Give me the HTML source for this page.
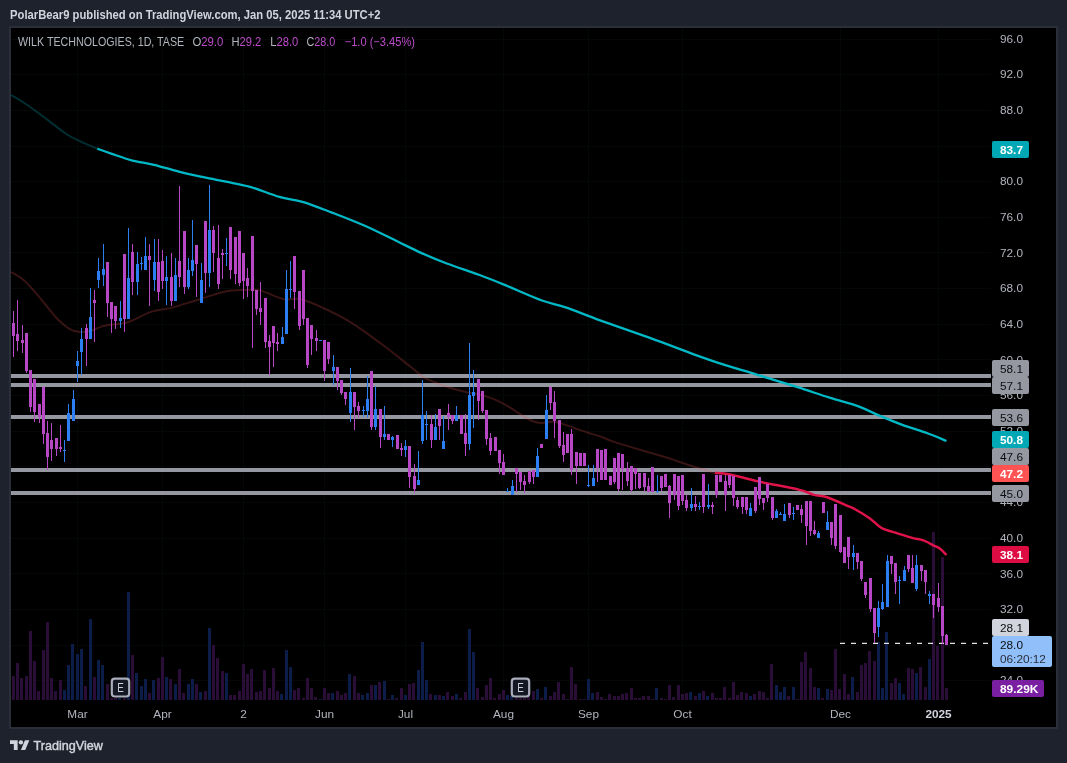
<!DOCTYPE html><html><head><meta charset="utf-8"><title>WILK TECHNOLOGIES chart</title><style>html,body{margin:0;padding:0;background:#1e222d;}body{width:1067px;height:763px;position:relative;overflow:hidden}</style></head><body>
<svg width="1067" height="763" viewBox="0 0 1067 763" style="position:absolute;left:0;top:0">
<rect x="9" y="26" width="1049" height="703" fill="#2a2e39"/>
<rect x="11" y="28" width="1045" height="699" fill="#000"/>
<g fill="#040807" shape-rendering="crispEdges">
<rect x="11" y="680" width="980" height="1"/>
<rect x="11" y="645" width="980" height="1"/>
<rect x="11" y="609" width="980" height="1"/>
<rect x="11" y="573" width="980" height="1"/>
<rect x="11" y="538" width="980" height="1"/>
<rect x="11" y="502" width="980" height="1"/>
<rect x="11" y="466" width="980" height="1"/>
<rect x="11" y="431" width="980" height="1"/>
<rect x="11" y="395" width="980" height="1"/>
<rect x="11" y="359" width="980" height="1"/>
<rect x="11" y="324" width="980" height="1"/>
<rect x="11" y="288" width="980" height="1"/>
<rect x="11" y="252" width="980" height="1"/>
<rect x="11" y="217" width="980" height="1"/>
<rect x="11" y="181" width="980" height="1"/>
<rect x="11" y="146" width="980" height="1"/>
<rect x="11" y="110" width="980" height="1"/>
<rect x="11" y="74" width="980" height="1"/>
<rect x="11" y="39" width="980" height="1"/>
<rect x="77" y="28" width="1" height="672"/>
<rect x="162" y="28" width="1" height="672"/>
<rect x="243" y="28" width="1" height="672"/>
<rect x="324" y="28" width="1" height="672"/>
<rect x="405" y="28" width="1" height="672"/>
<rect x="503" y="28" width="1" height="672"/>
<rect x="588" y="28" width="1" height="672"/>
<rect x="682" y="28" width="1" height="672"/>
<rect x="840" y="28" width="1" height="672"/>
<rect x="938" y="28" width="1" height="672"/>
</g>
<g fill="#9598a1" shape-rendering="crispEdges">
<rect x="11" y="374" width="980" height="4"/>
<rect x="11" y="383" width="980" height="4"/>
<rect x="11" y="415" width="980" height="4"/>
<rect x="11" y="468" width="980" height="4"/>
<rect x="11" y="491" width="980" height="4"/>
</g>
<g shape-rendering="crispEdges">
<rect x="12" y="676" width="3" height="24" fill="#2a0e37"/>
<rect x="16" y="663" width="3" height="37" fill="#2a0e37"/>
<rect x="20" y="678" width="3" height="22" fill="#2a0e37"/>
<rect x="25" y="676" width="3" height="24" fill="#2a0e37"/>
<rect x="29" y="631" width="3" height="69" fill="#2a0e37"/>
<rect x="33" y="661" width="3" height="39" fill="#2a0e37"/>
<rect x="37" y="691" width="3" height="9" fill="#2a0e37"/>
<rect x="42" y="650" width="3" height="50" fill="#2a0e37"/>
<rect x="46" y="622" width="3" height="78" fill="#2a0e37"/>
<rect x="50" y="678" width="3" height="22" fill="#2a0e37"/>
<rect x="54" y="691" width="3" height="9" fill="#2a0e37"/>
<rect x="59" y="680" width="3" height="20" fill="#2a0e37"/>
<rect x="63" y="690" width="3" height="10" fill="#0d1d49"/>
<rect x="67" y="665" width="3" height="35" fill="#0d1d49"/>
<rect x="71" y="644" width="3" height="56" fill="#0d1d49"/>
<rect x="76" y="654" width="3" height="46" fill="#0d1d49"/>
<rect x="80" y="649" width="3" height="51" fill="#0d1d49"/>
<rect x="84" y="686" width="3" height="14" fill="#2a0e37"/>
<rect x="89" y="619" width="3" height="81" fill="#0d1d49"/>
<rect x="93" y="677" width="3" height="23" fill="#2a0e37"/>
<rect x="97" y="660" width="3" height="40" fill="#0d1d49"/>
<rect x="101" y="665" width="3" height="35" fill="#0d1d49"/>
<rect x="106" y="684" width="3" height="16" fill="#2a0e37"/>
<rect x="110" y="698" width="3" height="2" fill="#2a0e37"/>
<rect x="114" y="698" width="3" height="2" fill="#2a0e37"/>
<rect x="118" y="698" width="3" height="2" fill="#0d1d49"/>
<rect x="123" y="698" width="3" height="2" fill="#2a0e37"/>
<rect x="127" y="592" width="3" height="108" fill="#0d1d49"/>
<rect x="131" y="655" width="3" height="45" fill="#2a0e37"/>
<rect x="135" y="673" width="3" height="27" fill="#0d1d49"/>
<rect x="140" y="686" width="3" height="14" fill="#0d1d49"/>
<rect x="144" y="679" width="3" height="21" fill="#0d1d49"/>
<rect x="148" y="693" width="3" height="7" fill="#2a0e37"/>
<rect x="152" y="680" width="3" height="20" fill="#0d1d49"/>
<rect x="157" y="678" width="3" height="22" fill="#2a0e37"/>
<rect x="161" y="657" width="3" height="43" fill="#2a0e37"/>
<rect x="165" y="677" width="3" height="23" fill="#0d1d49"/>
<rect x="169" y="679" width="3" height="21" fill="#2a0e37"/>
<rect x="174" y="684" width="3" height="16" fill="#0d1d49"/>
<rect x="178" y="669" width="3" height="31" fill="#2a0e37"/>
<rect x="182" y="693" width="3" height="7" fill="#2a0e37"/>
<rect x="187" y="684" width="3" height="16" fill="#0d1d49"/>
<rect x="191" y="679" width="3" height="21" fill="#0d1d49"/>
<rect x="195" y="684" width="3" height="16" fill="#2a0e37"/>
<rect x="199" y="692" width="3" height="8" fill="#0d1d49"/>
<rect x="204" y="691" width="3" height="9" fill="#2a0e37"/>
<rect x="208" y="628" width="3" height="72" fill="#0d1d49"/>
<rect x="212" y="645" width="3" height="55" fill="#2a0e37"/>
<rect x="216" y="658" width="3" height="42" fill="#2a0e37"/>
<rect x="221" y="671" width="3" height="29" fill="#2a0e37"/>
<rect x="225" y="673" width="3" height="27" fill="#0d1d49"/>
<rect x="229" y="695" width="3" height="5" fill="#2a0e37"/>
<rect x="233" y="695" width="3" height="5" fill="#2a0e37"/>
<rect x="238" y="691" width="3" height="9" fill="#2a0e37"/>
<rect x="242" y="664" width="3" height="36" fill="#2a0e37"/>
<rect x="246" y="674" width="3" height="26" fill="#2a0e37"/>
<rect x="250" y="669" width="3" height="31" fill="#2a0e37"/>
<rect x="255" y="692" width="3" height="8" fill="#2a0e37"/>
<rect x="259" y="691" width="3" height="9" fill="#2a0e37"/>
<rect x="263" y="670" width="3" height="30" fill="#2a0e37"/>
<rect x="268" y="688" width="3" height="12" fill="#2a0e37"/>
<rect x="272" y="668" width="3" height="32" fill="#2a0e37"/>
<rect x="276" y="691" width="3" height="9" fill="#2a0e37"/>
<rect x="280" y="694" width="3" height="6" fill="#0d1d49"/>
<rect x="285" y="650" width="3" height="50" fill="#0d1d49"/>
<rect x="289" y="667" width="3" height="33" fill="#0d1d49"/>
<rect x="293" y="690" width="3" height="10" fill="#2a0e37"/>
<rect x="297" y="688" width="3" height="12" fill="#2a0e37"/>
<rect x="302" y="698" width="3" height="2" fill="#2a0e37"/>
<rect x="306" y="678" width="3" height="22" fill="#2a0e37"/>
<rect x="310" y="688" width="3" height="12" fill="#2a0e37"/>
<rect x="314" y="697" width="3" height="3" fill="#2a0e37"/>
<rect x="319" y="699" width="3" height="1" fill="#0d1d49"/>
<rect x="323" y="688" width="3" height="12" fill="#2a0e37"/>
<rect x="327" y="693" width="3" height="7" fill="#2a0e37"/>
<rect x="331" y="693" width="3" height="7" fill="#0d1d49"/>
<rect x="336" y="691" width="3" height="9" fill="#2a0e37"/>
<rect x="340" y="695" width="3" height="5" fill="#2a0e37"/>
<rect x="344" y="693" width="3" height="7" fill="#2a0e37"/>
<rect x="348" y="674" width="3" height="26" fill="#0d1d49"/>
<rect x="353" y="676" width="3" height="24" fill="#2a0e37"/>
<rect x="357" y="693" width="3" height="7" fill="#2a0e37"/>
<rect x="361" y="695" width="3" height="5" fill="#0d1d49"/>
<rect x="366" y="693" width="3" height="7" fill="#0d1d49"/>
<rect x="370" y="685" width="3" height="15" fill="#2a0e37"/>
<rect x="374" y="685" width="3" height="15" fill="#0d1d49"/>
<rect x="378" y="682" width="3" height="18" fill="#2a0e37"/>
<rect x="383" y="681" width="3" height="19" fill="#0d1d49"/>
<rect x="387" y="699" width="3" height="1" fill="#2a0e37"/>
<rect x="391" y="695" width="3" height="5" fill="#0d1d49"/>
<rect x="395" y="698" width="3" height="2" fill="#2a0e37"/>
<rect x="400" y="688" width="3" height="12" fill="#2a0e37"/>
<rect x="404" y="695" width="3" height="5" fill="#0d1d49"/>
<rect x="408" y="684" width="3" height="16" fill="#2a0e37"/>
<rect x="412" y="683" width="3" height="17" fill="#2a0e37"/>
<rect x="417" y="670" width="3" height="30" fill="#0d1d49"/>
<rect x="421" y="642" width="3" height="58" fill="#0d1d49"/>
<rect x="425" y="680" width="3" height="20" fill="#0d1d49"/>
<rect x="429" y="694" width="3" height="6" fill="#2a0e37"/>
<rect x="434" y="695" width="3" height="5" fill="#0d1d49"/>
<rect x="438" y="695" width="3" height="5" fill="#2a0e37"/>
<rect x="442" y="696" width="3" height="4" fill="#0d1d49"/>
<rect x="446" y="692" width="3" height="8" fill="#2a0e37"/>
<rect x="451" y="696" width="3" height="4" fill="#2a0e37"/>
<rect x="455" y="694" width="3" height="6" fill="#0d1d49"/>
<rect x="459" y="698" width="3" height="2" fill="#2a0e37"/>
<rect x="464" y="692" width="3" height="8" fill="#2a0e37"/>
<rect x="468" y="629" width="3" height="71" fill="#0d1d49"/>
<rect x="472" y="652" width="3" height="48" fill="#0d1d49"/>
<rect x="476" y="688" width="3" height="12" fill="#2a0e37"/>
<rect x="481" y="697" width="3" height="3" fill="#2a0e37"/>
<rect x="485" y="685" width="3" height="15" fill="#2a0e37"/>
<rect x="489" y="678" width="3" height="22" fill="#2a0e37"/>
<rect x="493" y="698" width="3" height="2" fill="#2a0e37"/>
<rect x="498" y="694" width="3" height="6" fill="#2a0e37"/>
<rect x="502" y="690" width="3" height="10" fill="#2a0e37"/>
<rect x="506" y="695" width="3" height="5" fill="#0d1d49"/>
<rect x="510" y="696" width="3" height="4" fill="#0d1d49"/>
<rect x="515" y="698" width="3" height="2" fill="#2a0e37"/>
<rect x="519" y="698" width="3" height="2" fill="#2a0e37"/>
<rect x="523" y="698" width="3" height="2" fill="#2a0e37"/>
<rect x="527" y="697" width="3" height="3" fill="#2a0e37"/>
<rect x="532" y="691" width="3" height="9" fill="#2a0e37"/>
<rect x="536" y="689" width="3" height="11" fill="#0d1d49"/>
<rect x="540" y="698" width="3" height="2" fill="#2a0e37"/>
<rect x="544" y="687" width="3" height="13" fill="#0d1d49"/>
<rect x="549" y="696" width="3" height="4" fill="#2a0e37"/>
<rect x="553" y="692" width="3" height="8" fill="#2a0e37"/>
<rect x="557" y="682" width="3" height="18" fill="#2a0e37"/>
<rect x="562" y="694" width="3" height="6" fill="#2a0e37"/>
<rect x="566" y="699" width="3" height="1" fill="#2a0e37"/>
<rect x="570" y="667" width="3" height="33" fill="#2a0e37"/>
<rect x="574" y="684" width="3" height="16" fill="#2a0e37"/>
<rect x="579" y="699" width="3" height="1" fill="#2a0e37"/>
<rect x="583" y="699" width="3" height="1" fill="#2a0e37"/>
<rect x="587" y="679" width="3" height="21" fill="#0d1d49"/>
<rect x="591" y="693" width="3" height="7" fill="#0d1d49"/>
<rect x="596" y="692" width="3" height="8" fill="#2a0e37"/>
<rect x="600" y="697" width="3" height="3" fill="#2a0e37"/>
<rect x="604" y="699" width="3" height="1" fill="#2a0e37"/>
<rect x="608" y="694" width="3" height="6" fill="#2a0e37"/>
<rect x="613" y="696" width="3" height="4" fill="#2a0e37"/>
<rect x="617" y="696" width="3" height="4" fill="#2a0e37"/>
<rect x="621" y="694" width="3" height="6" fill="#2a0e37"/>
<rect x="625" y="693" width="3" height="7" fill="#2a0e37"/>
<rect x="630" y="688" width="3" height="12" fill="#2a0e37"/>
<rect x="634" y="698" width="3" height="2" fill="#2a0e37"/>
<rect x="638" y="698" width="3" height="2" fill="#2a0e37"/>
<rect x="642" y="696" width="3" height="4" fill="#2a0e37"/>
<rect x="647" y="696" width="3" height="4" fill="#2a0e37"/>
<rect x="651" y="699" width="3" height="1" fill="#2a0e37"/>
<rect x="655" y="688" width="3" height="12" fill="#0d1d49"/>
<rect x="660" y="698" width="3" height="2" fill="#2a0e37"/>
<rect x="664" y="699" width="3" height="1" fill="#2a0e37"/>
<rect x="668" y="685" width="3" height="15" fill="#2a0e37"/>
<rect x="672" y="697" width="3" height="3" fill="#2a0e37"/>
<rect x="677" y="685" width="3" height="15" fill="#2a0e37"/>
<rect x="681" y="694" width="3" height="6" fill="#2a0e37"/>
<rect x="685" y="693" width="3" height="7" fill="#2a0e37"/>
<rect x="689" y="692" width="3" height="8" fill="#0d1d49"/>
<rect x="694" y="696" width="3" height="4" fill="#2a0e37"/>
<rect x="698" y="693" width="3" height="7" fill="#0d1d49"/>
<rect x="702" y="691" width="3" height="9" fill="#2a0e37"/>
<rect x="706" y="696" width="3" height="4" fill="#0d1d49"/>
<rect x="711" y="693" width="3" height="7" fill="#2a0e37"/>
<rect x="715" y="698" width="3" height="2" fill="#2a0e37"/>
<rect x="719" y="698" width="3" height="2" fill="#2a0e37"/>
<rect x="723" y="687" width="3" height="13" fill="#2a0e37"/>
<rect x="728" y="698" width="3" height="2" fill="#2a0e37"/>
<rect x="732" y="682" width="3" height="18" fill="#2a0e37"/>
<rect x="736" y="695" width="3" height="5" fill="#2a0e37"/>
<rect x="740" y="692" width="3" height="8" fill="#2a0e37"/>
<rect x="745" y="693" width="3" height="7" fill="#2a0e37"/>
<rect x="749" y="696" width="3" height="4" fill="#0d1d49"/>
<rect x="753" y="694" width="3" height="6" fill="#2a0e37"/>
<rect x="758" y="691" width="3" height="9" fill="#2a0e37"/>
<rect x="762" y="692" width="3" height="8" fill="#2a0e37"/>
<rect x="766" y="698" width="3" height="2" fill="#2a0e37"/>
<rect x="770" y="664" width="3" height="36" fill="#2a0e37"/>
<rect x="775" y="685" width="3" height="15" fill="#0d1d49"/>
<rect x="779" y="692" width="3" height="8" fill="#0d1d49"/>
<rect x="783" y="687" width="3" height="13" fill="#0d1d49"/>
<rect x="787" y="696" width="3" height="4" fill="#2a0e37"/>
<rect x="792" y="687" width="3" height="13" fill="#0d1d49"/>
<rect x="796" y="699" width="3" height="1" fill="#2a0e37"/>
<rect x="800" y="662" width="3" height="38" fill="#2a0e37"/>
<rect x="804" y="652" width="3" height="48" fill="#2a0e37"/>
<rect x="809" y="668" width="3" height="32" fill="#2a0e37"/>
<rect x="813" y="687" width="3" height="13" fill="#2a0e37"/>
<rect x="817" y="688" width="3" height="12" fill="#0d1d49"/>
<rect x="821" y="698" width="3" height="2" fill="#2a0e37"/>
<rect x="826" y="689" width="3" height="11" fill="#0d1d49"/>
<rect x="830" y="690" width="3" height="10" fill="#2a0e37"/>
<rect x="834" y="649" width="3" height="51" fill="#2a0e37"/>
<rect x="838" y="689" width="3" height="11" fill="#2a0e37"/>
<rect x="843" y="674" width="3" height="26" fill="#2a0e37"/>
<rect x="847" y="694" width="3" height="6" fill="#2a0e37"/>
<rect x="851" y="677" width="3" height="23" fill="#0d1d49"/>
<rect x="856" y="692" width="3" height="8" fill="#2a0e37"/>
<rect x="860" y="665" width="3" height="35" fill="#2a0e37"/>
<rect x="864" y="663" width="3" height="37" fill="#2a0e37"/>
<rect x="868" y="651" width="3" height="49" fill="#2a0e37"/>
<rect x="873" y="661" width="3" height="39" fill="#2a0e37"/>
<rect x="877" y="642" width="3" height="58" fill="#0d1d49"/>
<rect x="881" y="688" width="3" height="12" fill="#0d1d49"/>
<rect x="885" y="632" width="3" height="68" fill="#0d1d49"/>
<rect x="890" y="683" width="3" height="17" fill="#2a0e37"/>
<rect x="894" y="678" width="3" height="22" fill="#2a0e37"/>
<rect x="898" y="683" width="3" height="17" fill="#0d1d49"/>
<rect x="902" y="694" width="3" height="6" fill="#0d1d49"/>
<rect x="907" y="668" width="3" height="32" fill="#2a0e37"/>
<rect x="911" y="669" width="3" height="31" fill="#2a0e37"/>
<rect x="915" y="673" width="3" height="27" fill="#0d1d49"/>
<rect x="919" y="667" width="3" height="33" fill="#2a0e37"/>
<rect x="924" y="687" width="3" height="13" fill="#2a0e37"/>
<rect x="928" y="659" width="3" height="41" fill="#0d1d49"/>
<rect x="932" y="532" width="3" height="168" fill="#2a0e37"/>
<rect x="936" y="646" width="3" height="54" fill="#2a0e37"/>
<rect x="941" y="557" width="3" height="143" fill="#2a0e37"/>
<rect x="945" y="688" width="3" height="12" fill="#2a0e37"/>
</g>
<path d="M11.0 95.1 C13.1 96.3 19.2 99.7 23.5 102.5 C27.8 105.3 32.5 108.7 37.0 112.0 C41.5 115.3 45.6 118.4 50.5 122.1 C55.4 125.8 61.3 130.8 66.2 134.0 C71.1 137.2 74.5 138.8 79.7 141.2 C84.9 143.6 94.4 147.4 97.3 148.7" fill="none" stroke="#00b9c6" stroke-opacity="0.25" stroke-width="2" stroke-linejoin="round"/>
<path d="M97.3 148.7 C99.6 149.5 105.5 151.7 111.2 153.6 C116.9 155.5 124.4 158.4 131.5 160.3 C138.6 162.2 146.1 162.9 154.0 164.8 C161.9 166.7 170.5 169.5 178.7 171.6 C186.9 173.7 195.5 175.5 203.4 177.2 C211.3 178.9 218.1 180.1 225.9 181.7 C233.7 183.3 241.1 184.3 250.0 186.8 C258.9 189.3 270.8 194.4 279.5 196.9 C288.2 199.4 293.8 199.2 302.5 201.8 C311.2 204.4 321.6 208.6 332.0 212.6 C342.4 216.6 353.9 221.0 364.8 225.8 C375.7 230.6 388.3 237.0 397.6 241.5 C406.9 246.0 412.3 248.9 420.5 252.6 C428.7 256.3 436.9 259.8 446.8 263.5 C456.7 267.2 469.8 271.4 479.6 275.0 C489.4 278.6 495.4 281.1 505.8 285.4 C516.2 289.6 532.0 296.9 541.9 300.5 C551.8 304.1 555.2 303.8 564.9 307.1 C574.6 310.4 586.0 315.2 600.0 320.3 C614.0 325.4 630.6 331.0 649.2 337.7 C667.8 344.4 693.5 354.5 711.5 360.7 C729.5 366.9 743.2 370.4 757.4 374.8 C771.6 379.2 784.8 383.1 796.8 386.9 C808.8 390.7 819.2 394.4 829.6 397.7 C840.0 401.0 850.9 403.7 859.1 406.6 C867.3 409.6 871.7 412.4 878.8 415.4 C885.9 418.4 893.5 421.6 901.7 424.6 C909.9 427.6 920.5 430.8 928.0 433.5 C935.5 436.2 943.4 439.8 946.5 441.0" fill="none" stroke="#00b9c6" stroke-width="2.3" stroke-linejoin="round"/>
<path d="M11.0 272.0 C12.8 273.1 18.0 275.5 21.8 278.6 C25.6 281.7 29.7 286.1 33.6 290.4 C37.5 294.7 41.5 299.8 45.4 304.5 C49.3 309.2 53.3 314.7 57.2 318.7 C61.1 322.7 65.5 326.4 69.0 328.6 C72.5 330.8 74.9 331.3 78.4 331.7 C81.9 332.1 85.9 331.9 90.2 330.9 C94.5 329.9 98.0 327.2 104.3 325.8 C110.6 324.4 120.0 324.6 127.9 322.2 C135.8 319.8 144.4 314.0 151.5 311.6 C158.6 309.2 163.3 309.9 170.4 308.1 C177.5 306.3 186.9 303.2 194.0 301.0 C201.1 298.8 206.9 296.8 212.8 295.1 C218.7 293.4 223.8 291.7 229.3 290.8 C234.8 289.9 240.7 290.0 245.8 289.9 C250.9 289.8 253.8 288.9 260.0 290.4 C266.2 291.9 276.3 297.5 282.8 298.9 C289.3 300.3 293.7 298.0 299.2 298.9 C304.7 299.8 307.4 300.8 315.6 304.5 C323.8 308.2 337.5 314.3 348.4 320.9 C359.3 327.4 370.9 336.2 381.2 343.8 C391.5 351.4 403.0 360.8 410.0 366.3 C417.0 371.8 418.7 374.2 423.1 377.0 C427.5 379.8 431.8 381.1 436.2 382.9 C440.6 384.6 444.4 386.0 449.4 387.5 C454.4 389.0 460.7 390.8 466.4 392.1 C472.1 393.5 478.5 394.2 483.5 395.6 C488.5 397.0 491.9 398.3 496.2 400.2 C500.5 402.1 505.0 404.6 509.4 407.2 C513.8 409.8 518.8 413.4 522.5 415.7 C526.2 417.9 528.6 419.5 531.7 420.7 C534.8 421.9 538.1 422.8 540.9 423.0 C543.7 423.2 546.3 422.1 548.7 421.9 C551.1 421.7 553.1 421.7 555.3 422.0 C557.5 422.3 558.6 422.6 561.9 423.6 C565.2 424.6 570.6 426.7 575.0 428.2 C579.4 429.7 583.7 431.4 588.1 432.8 C592.5 434.2 596.4 435.0 601.2 436.7 C606.0 438.4 606.3 439.5 617.0 442.9 C627.7 446.3 652.2 453.1 665.6 457.3 C679.0 461.5 688.9 465.2 697.1 467.8 C705.3 470.4 711.8 472.1 714.8 473.0" fill="none" stroke="#ef5350" stroke-opacity="0.23" stroke-width="2" stroke-linejoin="round"/>
<path d="M714.8 473.0 C717.3 473.2 722.8 473.0 730.0 474.4 C737.2 475.8 746.6 478.8 758.2 481.4 C769.8 484.0 790.3 487.6 799.6 489.9 C808.9 492.1 809.4 493.7 814.0 494.9 C818.6 496.1 821.4 495.3 827.1 497.2 C832.8 499.1 843.2 504.0 848.1 506.1 C853.0 508.2 852.7 507.9 856.3 510.0 C859.9 512.0 865.7 515.4 869.9 518.4 C874.1 521.4 876.7 525.3 881.4 527.8 C886.1 530.3 893.0 531.9 898.2 533.6 C903.5 535.3 908.7 537.0 912.9 538.1 C917.1 539.2 919.9 539.1 923.4 540.4 C926.9 541.6 931.1 544.2 933.9 545.6 C936.7 547.0 938.0 547.2 940.1 548.8 C942.2 550.4 945.4 554.0 946.5 555.0" fill="none" stroke="#e0134b" stroke-width="2.5" stroke-linejoin="round"/>
<path d="M840 643.4 H991" stroke="#e2e2e2" stroke-width="1.2" stroke-dasharray="5 6" fill="none"/>
<g shape-rendering="crispEdges">
<rect x="13" y="311" width="1" height="46" fill="#b847c6"/>
<rect x="12" y="323" width="3" height="13" fill="#b847c6"/>
<rect x="17" y="300" width="1" height="51" fill="#b847c6"/>
<rect x="16" y="334" width="3" height="7" fill="#b847c6"/>
<rect x="22" y="325" width="1" height="28" fill="#b847c6"/>
<rect x="21" y="340" width="3" height="3" fill="#b847c6"/>
<rect x="26" y="333" width="1" height="40" fill="#b847c6"/>
<rect x="25" y="333" width="3" height="38" fill="#b847c6"/>
<rect x="30" y="370" width="1" height="42" fill="#b847c6"/>
<rect x="29" y="370" width="3" height="37" fill="#b847c6"/>
<rect x="34" y="379" width="1" height="43" fill="#b847c6"/>
<rect x="33" y="379" width="3" height="33" fill="#b847c6"/>
<rect x="39" y="404" width="1" height="19" fill="#b847c6"/>
<rect x="38" y="404" width="3" height="13" fill="#b847c6"/>
<rect x="43" y="387" width="1" height="57" fill="#b847c6"/>
<rect x="42" y="387" width="3" height="47" fill="#b847c6"/>
<rect x="47" y="421" width="1" height="49" fill="#b847c6"/>
<rect x="46" y="433" width="3" height="24" fill="#b847c6"/>
<rect x="51" y="423" width="1" height="38" fill="#b847c6"/>
<rect x="50" y="440" width="3" height="9" fill="#b847c6"/>
<rect x="56" y="438" width="1" height="18" fill="#b847c6"/>
<rect x="55" y="438" width="3" height="11" fill="#b847c6"/>
<rect x="60" y="425" width="1" height="27" fill="#b847c6"/>
<rect x="59" y="447" width="3" height="2" fill="#b847c6"/>
<rect x="64" y="440" width="1" height="22" fill="#2b7ff3"/>
<rect x="63" y="450" width="3" height="1" fill="#2b7ff3"/>
<rect x="68" y="404" width="1" height="37" fill="#2b7ff3"/>
<rect x="67" y="413" width="3" height="28" fill="#2b7ff3"/>
<rect x="73" y="390" width="1" height="31" fill="#2b7ff3"/>
<rect x="72" y="399" width="3" height="22" fill="#2b7ff3"/>
<rect x="77" y="351" width="1" height="31" fill="#2b7ff3"/>
<rect x="76" y="361" width="3" height="5" fill="#2b7ff3"/>
<rect x="81" y="328" width="1" height="47" fill="#2b7ff3"/>
<rect x="80" y="339" width="3" height="13" fill="#2b7ff3"/>
<rect x="86" y="324" width="1" height="42" fill="#b847c6"/>
<rect x="85" y="328" width="3" height="11" fill="#b847c6"/>
<rect x="90" y="288" width="1" height="51" fill="#2b7ff3"/>
<rect x="89" y="317" width="3" height="22" fill="#2b7ff3"/>
<rect x="94" y="290" width="1" height="52" fill="#b847c6"/>
<rect x="93" y="300" width="3" height="3" fill="#b847c6"/>
<rect x="98" y="258" width="1" height="30" fill="#2b7ff3"/>
<rect x="97" y="271" width="3" height="9" fill="#2b7ff3"/>
<rect x="103" y="244" width="1" height="42" fill="#2b7ff3"/>
<rect x="102" y="269" width="3" height="6" fill="#2b7ff3"/>
<rect x="107" y="262" width="1" height="55" fill="#b847c6"/>
<rect x="106" y="262" width="3" height="41" fill="#b847c6"/>
<rect x="111" y="302" width="1" height="31" fill="#b847c6"/>
<rect x="110" y="302" width="3" height="17" fill="#b847c6"/>
<rect x="115" y="306" width="1" height="23" fill="#b847c6"/>
<rect x="114" y="306" width="3" height="15" fill="#b847c6"/>
<rect x="120" y="301" width="1" height="27" fill="#2b7ff3"/>
<rect x="119" y="318" width="3" height="3" fill="#2b7ff3"/>
<rect x="124" y="254" width="1" height="78" fill="#b847c6"/>
<rect x="123" y="254" width="3" height="65" fill="#b847c6"/>
<rect x="128" y="228" width="1" height="91" fill="#2b7ff3"/>
<rect x="127" y="278" width="3" height="41" fill="#2b7ff3"/>
<rect x="132" y="244" width="1" height="51" fill="#b847c6"/>
<rect x="131" y="252" width="3" height="30" fill="#b847c6"/>
<rect x="137" y="252" width="1" height="43" fill="#2b7ff3"/>
<rect x="136" y="264" width="3" height="18" fill="#2b7ff3"/>
<rect x="141" y="257" width="1" height="13" fill="#2b7ff3"/>
<rect x="140" y="263" width="3" height="1" fill="#2b7ff3"/>
<rect x="145" y="237" width="1" height="33" fill="#2b7ff3"/>
<rect x="144" y="256" width="3" height="14" fill="#2b7ff3"/>
<rect x="149" y="244" width="1" height="62" fill="#b847c6"/>
<rect x="148" y="256" width="3" height="4" fill="#b847c6"/>
<rect x="154" y="239" width="1" height="52" fill="#2b7ff3"/>
<rect x="153" y="262" width="3" height="18" fill="#2b7ff3"/>
<rect x="158" y="239" width="1" height="62" fill="#b847c6"/>
<rect x="157" y="262" width="3" height="30" fill="#b847c6"/>
<rect x="162" y="250" width="1" height="39" fill="#b847c6"/>
<rect x="161" y="261" width="3" height="20" fill="#b847c6"/>
<rect x="166" y="256" width="1" height="49" fill="#2b7ff3"/>
<rect x="165" y="277" width="3" height="4" fill="#2b7ff3"/>
<rect x="171" y="253" width="1" height="53" fill="#b847c6"/>
<rect x="170" y="277" width="3" height="24" fill="#b847c6"/>
<rect x="175" y="258" width="1" height="43" fill="#2b7ff3"/>
<rect x="174" y="275" width="3" height="26" fill="#2b7ff3"/>
<rect x="179" y="186" width="1" height="101" fill="#b847c6"/>
<rect x="178" y="261" width="3" height="16" fill="#b847c6"/>
<rect x="184" y="231" width="1" height="63" fill="#b847c6"/>
<rect x="183" y="231" width="3" height="56" fill="#b847c6"/>
<rect x="188" y="258" width="1" height="31" fill="#2b7ff3"/>
<rect x="187" y="270" width="3" height="17" fill="#2b7ff3"/>
<rect x="192" y="220" width="1" height="56" fill="#2b7ff3"/>
<rect x="191" y="260" width="3" height="11" fill="#2b7ff3"/>
<rect x="196" y="245" width="1" height="52" fill="#b847c6"/>
<rect x="195" y="245" width="3" height="19" fill="#b847c6"/>
<rect x="201" y="263" width="1" height="40" fill="#2b7ff3"/>
<rect x="200" y="280" width="3" height="23" fill="#2b7ff3"/>
<rect x="205" y="221" width="1" height="72" fill="#b847c6"/>
<rect x="204" y="221" width="3" height="52" fill="#b847c6"/>
<rect x="209" y="185" width="1" height="102" fill="#2b7ff3"/>
<rect x="208" y="230" width="3" height="43" fill="#2b7ff3"/>
<rect x="213" y="226" width="1" height="46" fill="#b847c6"/>
<rect x="212" y="230" width="3" height="23" fill="#b847c6"/>
<rect x="218" y="225" width="1" height="64" fill="#b847c6"/>
<rect x="217" y="258" width="3" height="26" fill="#b847c6"/>
<rect x="222" y="249" width="1" height="30" fill="#b847c6"/>
<rect x="221" y="253" width="3" height="2" fill="#b847c6"/>
<rect x="226" y="238" width="1" height="28" fill="#2b7ff3"/>
<rect x="225" y="253" width="3" height="1" fill="#2b7ff3"/>
<rect x="230" y="227" width="1" height="52" fill="#b847c6"/>
<rect x="229" y="227" width="3" height="43" fill="#b847c6"/>
<rect x="235" y="237" width="1" height="47" fill="#b847c6"/>
<rect x="234" y="237" width="3" height="37" fill="#b847c6"/>
<rect x="239" y="231" width="1" height="55" fill="#b847c6"/>
<rect x="238" y="231" width="3" height="52" fill="#b847c6"/>
<rect x="243" y="253" width="1" height="46" fill="#b847c6"/>
<rect x="242" y="253" width="3" height="28" fill="#b847c6"/>
<rect x="247" y="268" width="1" height="29" fill="#b847c6"/>
<rect x="246" y="278" width="3" height="8" fill="#b847c6"/>
<rect x="252" y="236" width="1" height="112" fill="#b847c6"/>
<rect x="251" y="236" width="3" height="55" fill="#b847c6"/>
<rect x="256" y="290" width="1" height="25" fill="#b847c6"/>
<rect x="255" y="290" width="3" height="19" fill="#b847c6"/>
<rect x="260" y="282" width="1" height="43" fill="#b847c6"/>
<rect x="259" y="308" width="3" height="4" fill="#b847c6"/>
<rect x="265" y="298" width="1" height="50" fill="#b847c6"/>
<rect x="264" y="298" width="3" height="44" fill="#b847c6"/>
<rect x="269" y="335" width="1" height="40" fill="#b847c6"/>
<rect x="268" y="341" width="3" height="6" fill="#b847c6"/>
<rect x="273" y="326" width="1" height="41" fill="#b847c6"/>
<rect x="272" y="326" width="3" height="17" fill="#b847c6"/>
<rect x="277" y="333" width="1" height="18" fill="#b847c6"/>
<rect x="276" y="342" width="3" height="2" fill="#b847c6"/>
<rect x="282" y="327" width="1" height="17" fill="#2b7ff3"/>
<rect x="281" y="337" width="3" height="7" fill="#2b7ff3"/>
<rect x="286" y="270" width="1" height="64" fill="#2b7ff3"/>
<rect x="285" y="289" width="3" height="45" fill="#2b7ff3"/>
<rect x="290" y="261" width="1" height="37" fill="#2b7ff3"/>
<rect x="289" y="289" width="3" height="1" fill="#2b7ff3"/>
<rect x="294" y="256" width="1" height="53" fill="#b847c6"/>
<rect x="293" y="256" width="3" height="36" fill="#b847c6"/>
<rect x="299" y="291" width="1" height="39" fill="#b847c6"/>
<rect x="298" y="291" width="3" height="35" fill="#b847c6"/>
<rect x="303" y="270" width="1" height="55" fill="#b847c6"/>
<rect x="302" y="270" width="3" height="49" fill="#b847c6"/>
<rect x="307" y="318" width="1" height="50" fill="#b847c6"/>
<rect x="306" y="318" width="3" height="47" fill="#b847c6"/>
<rect x="311" y="325" width="1" height="30" fill="#b847c6"/>
<rect x="310" y="325" width="3" height="14" fill="#b847c6"/>
<rect x="316" y="330" width="1" height="21" fill="#b847c6"/>
<rect x="315" y="338" width="3" height="3" fill="#b847c6"/>
<rect x="319" y="340" width="3" height="1" fill="#2b7ff3"/>
<rect x="324" y="340" width="1" height="41" fill="#b847c6"/>
<rect x="323" y="340" width="3" height="31" fill="#b847c6"/>
<rect x="328" y="342" width="1" height="22" fill="#b847c6"/>
<rect x="327" y="342" width="3" height="17" fill="#b847c6"/>
<rect x="333" y="355" width="1" height="30" fill="#2b7ff3"/>
<rect x="332" y="367" width="3" height="4" fill="#2b7ff3"/>
<rect x="337" y="367" width="1" height="23" fill="#b847c6"/>
<rect x="336" y="367" width="3" height="14" fill="#b847c6"/>
<rect x="341" y="380" width="1" height="15" fill="#b847c6"/>
<rect x="340" y="380" width="3" height="13" fill="#b847c6"/>
<rect x="345" y="392" width="1" height="13" fill="#b847c6"/>
<rect x="344" y="392" width="3" height="7" fill="#b847c6"/>
<rect x="350" y="368" width="1" height="54" fill="#2b7ff3"/>
<rect x="349" y="392" width="3" height="21" fill="#2b7ff3"/>
<rect x="354" y="392" width="1" height="38" fill="#b847c6"/>
<rect x="353" y="392" width="3" height="15" fill="#b847c6"/>
<rect x="358" y="402" width="1" height="16" fill="#b847c6"/>
<rect x="357" y="406" width="3" height="5" fill="#b847c6"/>
<rect x="363" y="406" width="1" height="11" fill="#2b7ff3"/>
<rect x="362" y="410" width="3" height="1" fill="#2b7ff3"/>
<rect x="367" y="376" width="1" height="42" fill="#2b7ff3"/>
<rect x="366" y="399" width="3" height="12" fill="#2b7ff3"/>
<rect x="371" y="371" width="1" height="59" fill="#b847c6"/>
<rect x="370" y="371" width="3" height="56" fill="#b847c6"/>
<rect x="375" y="386" width="1" height="44" fill="#2b7ff3"/>
<rect x="374" y="409" width="3" height="18" fill="#2b7ff3"/>
<rect x="380" y="409" width="1" height="39" fill="#b847c6"/>
<rect x="379" y="409" width="3" height="28" fill="#b847c6"/>
<rect x="384" y="406" width="1" height="34" fill="#2b7ff3"/>
<rect x="383" y="434" width="3" height="3" fill="#2b7ff3"/>
<rect x="387" y="434" width="3" height="6" fill="#b847c6"/>
<rect x="392" y="436" width="1" height="11" fill="#2b7ff3"/>
<rect x="391" y="437" width="3" height="3" fill="#2b7ff3"/>
<rect x="396" y="435" width="3" height="14" fill="#b847c6"/>
<rect x="401" y="443" width="1" height="13" fill="#b847c6"/>
<rect x="400" y="448" width="3" height="2" fill="#b847c6"/>
<rect x="405" y="440" width="1" height="17" fill="#2b7ff3"/>
<rect x="404" y="446" width="3" height="4" fill="#2b7ff3"/>
<rect x="409" y="446" width="1" height="42" fill="#b847c6"/>
<rect x="408" y="446" width="3" height="31" fill="#b847c6"/>
<rect x="414" y="464" width="1" height="29" fill="#b847c6"/>
<rect x="413" y="476" width="3" height="13" fill="#b847c6"/>
<rect x="418" y="451" width="1" height="34" fill="#2b7ff3"/>
<rect x="417" y="480" width="3" height="5" fill="#2b7ff3"/>
<rect x="422" y="380" width="1" height="64" fill="#2b7ff3"/>
<rect x="421" y="415" width="3" height="26" fill="#2b7ff3"/>
<rect x="426" y="411" width="1" height="29" fill="#2b7ff3"/>
<rect x="425" y="424" width="3" height="1" fill="#2b7ff3"/>
<rect x="431" y="415" width="1" height="33" fill="#b847c6"/>
<rect x="430" y="424" width="3" height="16" fill="#b847c6"/>
<rect x="435" y="414" width="1" height="26" fill="#2b7ff3"/>
<rect x="434" y="427" width="3" height="13" fill="#2b7ff3"/>
<rect x="439" y="409" width="1" height="31" fill="#b847c6"/>
<rect x="438" y="409" width="3" height="17" fill="#b847c6"/>
<rect x="443" y="416" width="1" height="33" fill="#2b7ff3"/>
<rect x="442" y="441" width="3" height="8" fill="#2b7ff3"/>
<rect x="448" y="404" width="1" height="26" fill="#b847c6"/>
<rect x="447" y="413" width="3" height="4" fill="#b847c6"/>
<rect x="452" y="415" width="1" height="9" fill="#b847c6"/>
<rect x="451" y="415" width="3" height="6" fill="#b847c6"/>
<rect x="456" y="406" width="1" height="15" fill="#2b7ff3"/>
<rect x="455" y="415" width="3" height="6" fill="#2b7ff3"/>
<rect x="460" y="415" width="3" height="19" fill="#b847c6"/>
<rect x="465" y="414" width="1" height="42" fill="#b847c6"/>
<rect x="464" y="433" width="3" height="11" fill="#b847c6"/>
<rect x="469" y="343" width="1" height="107" fill="#2b7ff3"/>
<rect x="468" y="395" width="3" height="49" fill="#2b7ff3"/>
<rect x="473" y="370" width="1" height="58" fill="#2b7ff3"/>
<rect x="472" y="392" width="3" height="4" fill="#2b7ff3"/>
<rect x="478" y="379" width="1" height="41" fill="#b847c6"/>
<rect x="477" y="379" width="3" height="22" fill="#b847c6"/>
<rect x="482" y="391" width="1" height="22" fill="#b847c6"/>
<rect x="481" y="391" width="3" height="20" fill="#b847c6"/>
<rect x="486" y="410" width="1" height="35" fill="#b847c6"/>
<rect x="485" y="410" width="3" height="29" fill="#b847c6"/>
<rect x="490" y="433" width="1" height="22" fill="#b847c6"/>
<rect x="489" y="438" width="3" height="13" fill="#b847c6"/>
<rect x="494" y="437" width="3" height="14" fill="#b847c6"/>
<rect x="499" y="450" width="1" height="24" fill="#b847c6"/>
<rect x="498" y="450" width="3" height="13" fill="#b847c6"/>
<rect x="503" y="454" width="1" height="21" fill="#b847c6"/>
<rect x="502" y="462" width="3" height="13" fill="#b847c6"/>
<rect x="507" y="488" width="1" height="4" fill="#2b7ff3"/>
<rect x="506" y="491" width="3" height="1" fill="#2b7ff3"/>
<rect x="512" y="480" width="1" height="15" fill="#2b7ff3"/>
<rect x="511" y="486" width="3" height="9" fill="#2b7ff3"/>
<rect x="516" y="468" width="1" height="24" fill="#b847c6"/>
<rect x="515" y="468" width="3" height="6" fill="#b847c6"/>
<rect x="520" y="472" width="1" height="18" fill="#b847c6"/>
<rect x="519" y="472" width="3" height="10" fill="#b847c6"/>
<rect x="524" y="475" width="1" height="18" fill="#b847c6"/>
<rect x="523" y="481" width="3" height="4" fill="#b847c6"/>
<rect x="529" y="471" width="1" height="13" fill="#b847c6"/>
<rect x="528" y="471" width="3" height="11" fill="#b847c6"/>
<rect x="533" y="470" width="1" height="14" fill="#b847c6"/>
<rect x="532" y="470" width="3" height="7" fill="#b847c6"/>
<rect x="537" y="448" width="1" height="29" fill="#2b7ff3"/>
<rect x="536" y="456" width="3" height="21" fill="#2b7ff3"/>
<rect x="540" y="444" width="3" height="4" fill="#b847c6"/>
<rect x="546" y="395" width="1" height="44" fill="#2b7ff3"/>
<rect x="545" y="410" width="3" height="29" fill="#2b7ff3"/>
<rect x="550" y="387" width="1" height="23" fill="#b847c6"/>
<rect x="549" y="387" width="3" height="16" fill="#b847c6"/>
<rect x="554" y="391" width="1" height="47" fill="#b847c6"/>
<rect x="553" y="402" width="3" height="19" fill="#b847c6"/>
<rect x="559" y="420" width="1" height="28" fill="#b847c6"/>
<rect x="558" y="420" width="3" height="26" fill="#b847c6"/>
<rect x="563" y="432" width="1" height="30" fill="#b847c6"/>
<rect x="562" y="445" width="3" height="10" fill="#b847c6"/>
<rect x="566" y="434" width="3" height="19" fill="#b847c6"/>
<rect x="571" y="429" width="1" height="46" fill="#b847c6"/>
<rect x="570" y="434" width="3" height="36" fill="#b847c6"/>
<rect x="576" y="452" width="1" height="32" fill="#b847c6"/>
<rect x="575" y="452" width="3" height="14" fill="#b847c6"/>
<rect x="579" y="453" width="3" height="13" fill="#b847c6"/>
<rect x="583" y="453" width="3" height="13" fill="#b847c6"/>
<rect x="588" y="465" width="1" height="22" fill="#2b7ff3"/>
<rect x="587" y="485" width="3" height="1" fill="#2b7ff3"/>
<rect x="593" y="465" width="1" height="21" fill="#2b7ff3"/>
<rect x="592" y="478" width="3" height="8" fill="#2b7ff3"/>
<rect x="597" y="449" width="1" height="33" fill="#b847c6"/>
<rect x="596" y="449" width="3" height="19" fill="#b847c6"/>
<rect x="600" y="450" width="3" height="30" fill="#b847c6"/>
<rect x="604" y="449" width="3" height="31" fill="#b847c6"/>
<rect x="609" y="476" width="3" height="9" fill="#b847c6"/>
<rect x="614" y="458" width="1" height="26" fill="#b847c6"/>
<rect x="613" y="458" width="3" height="24" fill="#b847c6"/>
<rect x="618" y="453" width="1" height="38" fill="#b847c6"/>
<rect x="617" y="453" width="3" height="36" fill="#b847c6"/>
<rect x="622" y="454" width="1" height="36" fill="#b847c6"/>
<rect x="621" y="454" width="3" height="15" fill="#b847c6"/>
<rect x="627" y="462" width="1" height="24" fill="#b847c6"/>
<rect x="626" y="468" width="3" height="13" fill="#b847c6"/>
<rect x="631" y="466" width="1" height="26" fill="#b847c6"/>
<rect x="630" y="466" width="3" height="24" fill="#b847c6"/>
<rect x="635" y="468" width="1" height="21" fill="#b847c6"/>
<rect x="634" y="468" width="3" height="6" fill="#b847c6"/>
<rect x="639" y="473" width="1" height="16" fill="#b847c6"/>
<rect x="638" y="473" width="3" height="15" fill="#b847c6"/>
<rect x="644" y="473" width="1" height="18" fill="#b847c6"/>
<rect x="643" y="473" width="3" height="14" fill="#b847c6"/>
<rect x="648" y="478" width="1" height="14" fill="#b847c6"/>
<rect x="647" y="486" width="3" height="6" fill="#b847c6"/>
<rect x="651" y="467" width="3" height="25" fill="#b847c6"/>
<rect x="657" y="475" width="1" height="18" fill="#2b7ff3"/>
<rect x="656" y="491" width="3" height="1" fill="#2b7ff3"/>
<rect x="661" y="476" width="1" height="15" fill="#b847c6"/>
<rect x="660" y="476" width="3" height="12" fill="#b847c6"/>
<rect x="664" y="474" width="3" height="13" fill="#b847c6"/>
<rect x="669" y="485" width="1" height="33" fill="#b847c6"/>
<rect x="668" y="486" width="3" height="17" fill="#b847c6"/>
<rect x="674" y="474" width="1" height="26" fill="#b847c6"/>
<rect x="673" y="474" width="3" height="21" fill="#b847c6"/>
<rect x="678" y="476" width="1" height="34" fill="#b847c6"/>
<rect x="677" y="476" width="3" height="30" fill="#b847c6"/>
<rect x="682" y="475" width="1" height="30" fill="#b847c6"/>
<rect x="681" y="475" width="3" height="26" fill="#b847c6"/>
<rect x="686" y="495" width="1" height="16" fill="#b847c6"/>
<rect x="685" y="500" width="3" height="8" fill="#b847c6"/>
<rect x="691" y="488" width="1" height="23" fill="#2b7ff3"/>
<rect x="690" y="504" width="3" height="4" fill="#2b7ff3"/>
<rect x="695" y="496" width="1" height="15" fill="#b847c6"/>
<rect x="694" y="504" width="3" height="3" fill="#b847c6"/>
<rect x="699" y="502" width="1" height="8" fill="#2b7ff3"/>
<rect x="698" y="506" width="3" height="1" fill="#2b7ff3"/>
<rect x="703" y="474" width="1" height="39" fill="#b847c6"/>
<rect x="702" y="474" width="3" height="33" fill="#b847c6"/>
<rect x="708" y="484" width="1" height="25" fill="#2b7ff3"/>
<rect x="707" y="505" width="3" height="2" fill="#2b7ff3"/>
<rect x="712" y="502" width="1" height="12" fill="#b847c6"/>
<rect x="711" y="505" width="3" height="2" fill="#b847c6"/>
<rect x="716" y="475" width="1" height="23" fill="#b847c6"/>
<rect x="715" y="475" width="3" height="20" fill="#b847c6"/>
<rect x="719" y="475" width="3" height="7" fill="#b847c6"/>
<rect x="725" y="475" width="1" height="36" fill="#b847c6"/>
<rect x="724" y="481" width="3" height="14" fill="#b847c6"/>
<rect x="729" y="475" width="1" height="13" fill="#b847c6"/>
<rect x="728" y="475" width="3" height="10" fill="#b847c6"/>
<rect x="733" y="476" width="1" height="30" fill="#b847c6"/>
<rect x="732" y="476" width="3" height="22" fill="#b847c6"/>
<rect x="737" y="497" width="1" height="12" fill="#b847c6"/>
<rect x="736" y="500" width="3" height="7" fill="#b847c6"/>
<rect x="742" y="497" width="1" height="17" fill="#b847c6"/>
<rect x="741" y="497" width="3" height="10" fill="#b847c6"/>
<rect x="746" y="497" width="1" height="17" fill="#b847c6"/>
<rect x="745" y="497" width="3" height="13" fill="#b847c6"/>
<rect x="750" y="503" width="1" height="13" fill="#2b7ff3"/>
<rect x="749" y="508" width="3" height="8" fill="#2b7ff3"/>
<rect x="755" y="487" width="1" height="26" fill="#b847c6"/>
<rect x="754" y="487" width="3" height="24" fill="#b847c6"/>
<rect x="759" y="477" width="1" height="28" fill="#b847c6"/>
<rect x="758" y="477" width="3" height="22" fill="#b847c6"/>
<rect x="763" y="498" width="1" height="12" fill="#b847c6"/>
<rect x="762" y="498" width="3" height="5" fill="#b847c6"/>
<rect x="767" y="484" width="1" height="18" fill="#b847c6"/>
<rect x="766" y="484" width="3" height="14" fill="#b847c6"/>
<rect x="772" y="497" width="1" height="23" fill="#b847c6"/>
<rect x="771" y="497" width="3" height="21" fill="#b847c6"/>
<rect x="776" y="509" width="1" height="9" fill="#2b7ff3"/>
<rect x="775" y="511" width="3" height="7" fill="#2b7ff3"/>
<rect x="780" y="512" width="1" height="3" fill="#2b7ff3"/>
<rect x="779" y="514" width="3" height="1" fill="#2b7ff3"/>
<rect x="784" y="504" width="1" height="17" fill="#2b7ff3"/>
<rect x="783" y="514" width="3" height="7" fill="#2b7ff3"/>
<rect x="789" y="503" width="1" height="15" fill="#b847c6"/>
<rect x="788" y="503" width="3" height="12" fill="#b847c6"/>
<rect x="793" y="507" width="1" height="13" fill="#2b7ff3"/>
<rect x="792" y="513" width="3" height="1" fill="#2b7ff3"/>
<rect x="796" y="505" width="3" height="5" fill="#b847c6"/>
<rect x="801" y="505" width="1" height="18" fill="#b847c6"/>
<rect x="800" y="509" width="3" height="6" fill="#b847c6"/>
<rect x="806" y="501" width="1" height="44" fill="#b847c6"/>
<rect x="805" y="501" width="3" height="25" fill="#b847c6"/>
<rect x="810" y="501" width="1" height="35" fill="#b847c6"/>
<rect x="809" y="501" width="3" height="30" fill="#b847c6"/>
<rect x="814" y="521" width="1" height="14" fill="#b847c6"/>
<rect x="813" y="530" width="3" height="4" fill="#b847c6"/>
<rect x="818" y="531" width="1" height="7" fill="#2b7ff3"/>
<rect x="817" y="533" width="3" height="5" fill="#2b7ff3"/>
<rect x="822" y="502" width="3" height="11" fill="#b847c6"/>
<rect x="827" y="511" width="1" height="19" fill="#2b7ff3"/>
<rect x="826" y="522" width="3" height="8" fill="#2b7ff3"/>
<rect x="831" y="522" width="1" height="23" fill="#b847c6"/>
<rect x="830" y="522" width="3" height="16" fill="#b847c6"/>
<rect x="835" y="504" width="1" height="45" fill="#b847c6"/>
<rect x="834" y="504" width="3" height="42" fill="#b847c6"/>
<rect x="840" y="515" width="1" height="38" fill="#b847c6"/>
<rect x="839" y="515" width="3" height="37" fill="#b847c6"/>
<rect x="843" y="547" width="3" height="16" fill="#b847c6"/>
<rect x="848" y="537" width="1" height="32" fill="#b847c6"/>
<rect x="847" y="537" width="3" height="20" fill="#b847c6"/>
<rect x="853" y="545" width="1" height="25" fill="#2b7ff3"/>
<rect x="852" y="553" width="3" height="4" fill="#2b7ff3"/>
<rect x="857" y="553" width="1" height="16" fill="#b847c6"/>
<rect x="856" y="553" width="3" height="9" fill="#b847c6"/>
<rect x="861" y="561" width="1" height="20" fill="#b847c6"/>
<rect x="860" y="561" width="3" height="18" fill="#b847c6"/>
<rect x="865" y="582" width="1" height="16" fill="#b847c6"/>
<rect x="864" y="582" width="3" height="13" fill="#b847c6"/>
<rect x="870" y="578" width="1" height="34" fill="#b847c6"/>
<rect x="869" y="578" width="3" height="31" fill="#b847c6"/>
<rect x="874" y="608" width="1" height="35" fill="#b847c6"/>
<rect x="873" y="608" width="3" height="25" fill="#b847c6"/>
<rect x="878" y="601" width="1" height="36" fill="#2b7ff3"/>
<rect x="877" y="608" width="3" height="19" fill="#2b7ff3"/>
<rect x="882" y="584" width="1" height="26" fill="#2b7ff3"/>
<rect x="881" y="602" width="3" height="7" fill="#2b7ff3"/>
<rect x="887" y="555" width="1" height="52" fill="#2b7ff3"/>
<rect x="886" y="561" width="3" height="46" fill="#2b7ff3"/>
<rect x="891" y="556" width="1" height="18" fill="#b847c6"/>
<rect x="890" y="556" width="3" height="8" fill="#b847c6"/>
<rect x="895" y="563" width="1" height="31" fill="#b847c6"/>
<rect x="894" y="563" width="3" height="19" fill="#b847c6"/>
<rect x="899" y="576" width="1" height="28" fill="#2b7ff3"/>
<rect x="898" y="580" width="3" height="1" fill="#2b7ff3"/>
<rect x="904" y="566" width="1" height="15" fill="#2b7ff3"/>
<rect x="903" y="570" width="3" height="11" fill="#2b7ff3"/>
<rect x="908" y="555" width="1" height="17" fill="#b847c6"/>
<rect x="907" y="555" width="3" height="14" fill="#b847c6"/>
<rect x="912" y="555" width="1" height="28" fill="#b847c6"/>
<rect x="911" y="568" width="3" height="15" fill="#b847c6"/>
<rect x="916" y="555" width="1" height="36" fill="#2b7ff3"/>
<rect x="915" y="565" width="3" height="24" fill="#2b7ff3"/>
<rect x="921" y="565" width="1" height="16" fill="#b847c6"/>
<rect x="920" y="565" width="3" height="6" fill="#b847c6"/>
<rect x="925" y="570" width="1" height="24" fill="#b847c6"/>
<rect x="924" y="570" width="3" height="12" fill="#b847c6"/>
<rect x="929" y="591" width="1" height="13" fill="#2b7ff3"/>
<rect x="928" y="594" width="3" height="2" fill="#2b7ff3"/>
<rect x="933" y="594" width="1" height="24" fill="#b847c6"/>
<rect x="932" y="594" width="3" height="11" fill="#b847c6"/>
<rect x="938" y="583" width="1" height="29" fill="#b847c6"/>
<rect x="937" y="598" width="3" height="9" fill="#b847c6"/>
<rect x="942" y="606" width="1" height="38" fill="#b847c6"/>
<rect x="941" y="606" width="3" height="30" fill="#b847c6"/>
<rect x="946" y="634" width="1" height="11" fill="#b847c6"/>
<rect x="945" y="635" width="3" height="10" fill="#b847c6"/>
</g>
<rect x="111.8" y="678.7" width="17.4" height="17.8" rx="3" fill="#141824" stroke="#a9adbc" stroke-width="2.2"/>
<text x="117.3" y="692" font-family="Liberation Sans, sans-serif" font-size="12.5" fill="#cfd2da" textLength="6.5" lengthAdjust="spacingAndGlyphs">E</text>
<rect x="511.8" y="678.7" width="17.4" height="17.8" rx="3" fill="#141824" stroke="#a9adbc" stroke-width="2.2"/>
<text x="517.3" y="692" font-family="Liberation Sans, sans-serif" font-size="12.5" fill="#cfd2da" textLength="6.5" lengthAdjust="spacingAndGlyphs">E</text>
<g font-family="Liberation Sans, sans-serif" font-size="11.8" fill="#b2b5be">
<text x="1000" y="684.4">24.0</text>
<text x="1000" y="648.7">28.0</text>
<text x="1000" y="613.1">32.0</text>
<text x="1000" y="577.5">36.0</text>
<text x="1000" y="541.8">40.0</text>
<text x="1000" y="506.2">44.0</text>
<text x="1000" y="470.5">48.0</text>
<text x="1000" y="434.9">52.0</text>
<text x="1000" y="399.2">56.0</text>
<text x="1000" y="363.6">60.0</text>
<text x="1000" y="328.0">64.0</text>
<text x="1000" y="292.3">68.0</text>
<text x="1000" y="256.7">72.0</text>
<text x="1000" y="221.0">76.0</text>
<text x="1000" y="185.4">80.0</text>
<text x="1000" y="149.7">84.0</text>
<text x="1000" y="114.1">88.0</text>
<text x="1000" y="78.4">92.0</text>
<text x="1000" y="42.8">96.0</text>
</g>
<rect x="992" y="141" width="37" height="17" rx="2" fill="#00a8b5"/>
<text x="1000" y="153.5" font-family="Liberation Sans, sans-serif" font-size="11.8" font-weight="bold" fill="#fff">83.7</text>
<rect x="992" y="360" width="37" height="17" rx="2" fill="#9598a1"/>
<text x="1000" y="372.5" font-family="Liberation Sans, sans-serif" font-size="11.8"  fill="#0b0d14">58.1</text>
<rect x="992" y="377" width="37" height="17" rx="2" fill="#9598a1"/>
<text x="1000" y="389.5" font-family="Liberation Sans, sans-serif" font-size="11.8"  fill="#0b0d14">57.1</text>
<rect x="992" y="409" width="37" height="17" rx="2" fill="#9598a1"/>
<text x="1000" y="421.5" font-family="Liberation Sans, sans-serif" font-size="11.8"  fill="#0b0d14">53.6</text>
<rect x="992" y="431" width="37" height="17" rx="2" fill="#00a8b5"/>
<text x="1000" y="443.5" font-family="Liberation Sans, sans-serif" font-size="11.8" font-weight="bold" fill="#fff">50.8</text>
<rect x="992" y="448" width="37" height="17" rx="2" fill="#9598a1"/>
<text x="1000" y="460.5" font-family="Liberation Sans, sans-serif" font-size="11.8"  fill="#0b0d14">47.6</text>
<rect x="992" y="465" width="37" height="17" rx="2" fill="#ff5252"/>
<text x="1000" y="477.5" font-family="Liberation Sans, sans-serif" font-size="11.8" font-weight="bold" fill="#fff">47.2</text>
<rect x="992" y="485" width="37" height="17" rx="2" fill="#9598a1"/>
<text x="1000" y="497.5" font-family="Liberation Sans, sans-serif" font-size="11.8"  fill="#0b0d14">45.0</text>
<rect x="992" y="546" width="37" height="17" rx="2" fill="#dd0c42"/>
<text x="1000" y="558.5" font-family="Liberation Sans, sans-serif" font-size="11.8" font-weight="bold" fill="#fff">38.1</text>
<rect x="992" y="680" width="52" height="17" rx="2" fill="#7b1fa2"/>
<text x="1000" y="692.8" font-family="Liberation Sans, sans-serif" font-size="11.8" font-weight="bold" fill="#fff" textLength="38.4" lengthAdjust="spacingAndGlyphs">89.29K</text>
<rect x="992" y="619" width="37" height="17" rx="2" fill="#d1d4dc"/>
<text x="1000" y="631.5" font-family="Liberation Sans, sans-serif" font-size="11.8"  fill="#0b0d14">28.1</text>
<rect x="992" y="636" width="60" height="31" rx="2" fill="#90bff9"/>
<text x="1000" y="648.8" font-family="Liberation Sans, sans-serif" font-size="11.8" fill="#0b0d14">28.0</text>
<text x="1000" y="662.8" font-family="Liberation Sans, sans-serif" font-size="11.8" fill="#2a2e39">06:20:12</text>
<g font-family="Liberation Sans, sans-serif" font-size="11.8" fill="#b2b5be" text-anchor="middle">
<text x="77.5" y="718">Mar</text>
<text x="162.5" y="718">Apr</text>
<text x="243.5" y="718">2</text>
<text x="324.5" y="718">Jun</text>
<text x="405.5" y="718">Jul</text>
<text x="503.5" y="718">Aug</text>
<text x="588.5" y="718">Sep</text>
<text x="682.5" y="718">Oct</text>
<text x="840.5" y="718">Dec</text>
<text x="938.5" y="718" font-weight="bold" fill="#d1d4dc">2025</text>
</g>
<text x="18" y="46.2" font-family="Liberation Sans, sans-serif" font-size="12.2" fill="#b2b5be" textLength="166.2" lengthAdjust="spacingAndGlyphs">WILK TECHNOLOGIES, 1D, TASE</text>
<text x="192.4" y="46.2" font-family="Liberation Sans, sans-serif" font-size="12.2" fill="#b2b5be" textLength="30.9" lengthAdjust="spacingAndGlyphs">O<tspan fill="#bd4bcb">29.0</tspan></text>
<text x="231.5" y="46.2" font-family="Liberation Sans, sans-serif" font-size="12.2" fill="#b2b5be" textLength="29.8" lengthAdjust="spacingAndGlyphs">H<tspan fill="#bd4bcb">29.2</tspan></text>
<text x="270.2" y="46.2" font-family="Liberation Sans, sans-serif" font-size="12.2" fill="#b2b5be" textLength="28.1" lengthAdjust="spacingAndGlyphs">L<tspan fill="#bd4bcb">28.0</tspan></text>
<text x="306.5" y="46.2" font-family="Liberation Sans, sans-serif" font-size="12.2" fill="#b2b5be" textLength="28.8" lengthAdjust="spacingAndGlyphs">C<tspan fill="#bd4bcb">28.0</tspan></text>
<text x="344.7" y="46.2" font-family="Liberation Sans, sans-serif" font-size="12.2" fill="#bd4bcb" textLength="70.3" lengthAdjust="spacingAndGlyphs">−1.0 (−3.45%)</text>
<text x="10" y="18.7" font-family="Liberation Sans, sans-serif" font-size="12" font-weight="bold" fill="#d1d4dc" textLength="370.5" lengthAdjust="spacingAndGlyphs">PolarBear9 published on TradingView.com, Jan 05, 2025 11:34 UTC+2</text>
<g transform="translate(10,738) scale(0.545)" fill="#d1d4dc"><path d="M14 22H7V11H0V4h14v18zM28 22h-8l7.500-18h8L28 22z"/><circle cx="20" cy="8" r="4"/></g>
<text x="33.5" y="750" font-family="Liberation Sans, sans-serif" font-size="13" fill="#d1d4dc" stroke="#d1d4dc" stroke-width="0.45" textLength="69.5" lengthAdjust="spacingAndGlyphs">TradingView</text>
</svg>
</body></html>
